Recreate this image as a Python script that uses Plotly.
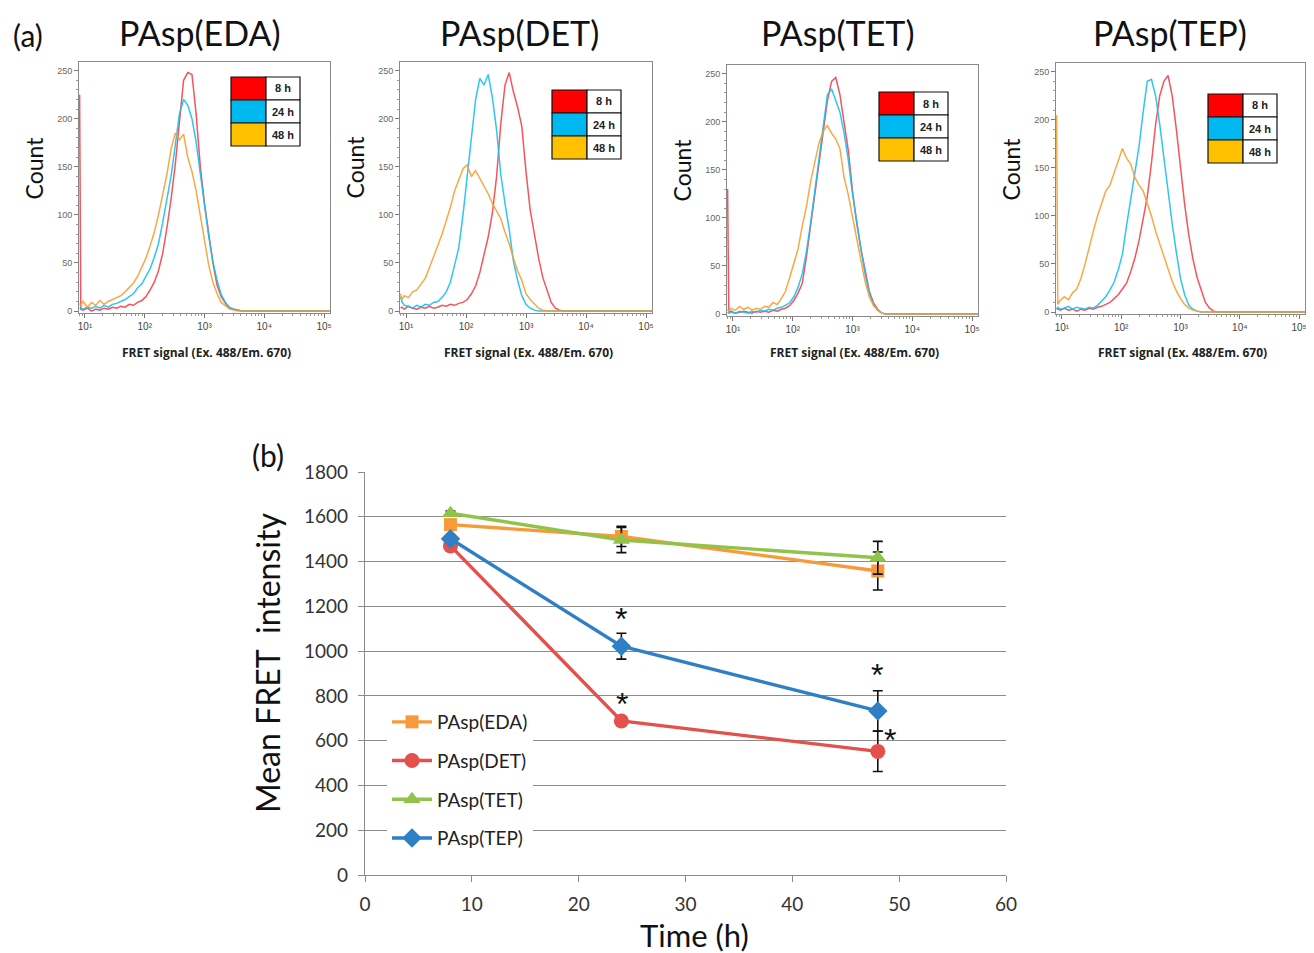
import plotly.graph_objects as go

# the page body adds an 8px margin, so the figure is sized to fit the 1314x953 window
PAGE_W, PAGE_H = 1314, 953
OFF = 8
W, H = PAGE_W - OFF, PAGE_H - OFF
FONT = "Lato"
TICKFONT = "Liberation Sans"

# ---------------- (a) flow cytometry histograms ----------------
# x: log10 of FRET signal (Ex. 488/Em. 670); y: event counts
log_signal = [0.91, 0.93,
              0.97, 1.04, 1.11, 1.18, 1.25, 1.32, 1.39,
              1.46, 1.53, 1.60, 1.67, 1.74, 1.81, 1.88,
              1.95, 2.02, 2.09, 2.16, 2.23, 2.30, 2.37,
              2.44, 2.51, 2.58, 2.65, 2.72, 2.79, 2.86,
              2.93, 3.00, 3.07, 3.14, 3.21, 3.28, 3.35,
              3.42, 3.49, 3.56, 3.63, 3.70,
              5.10]

hist_titles = ["PAsp(EDA)", "PAsp(DET)", "PAsp(TET)", "PAsp(TEP)"]
hist_times = ["8 h", "24 h", "48 h"]

eda_8h = [225, 2,
          1, 3, 0, 2, 1, 3, 2,
          4, 3, 5, 4, 7, 6, 9,
          11, 15, 22, 30, 42, 60, 86,
          116, 152, 200, 240, 248, 246, 205,
          150, 112, 80, 50, 27, 15, 8,
          3, 2, 1, 0, 0,
          0]
eda_24h = [3, 3,
           2, 4, 3, 5, 3, 6, 4,
           7, 8, 10, 12, 15, 18, 24,
           28, 36, 44, 56, 70, 92, 118,
           140, 172, 205, 220, 214, 200, 176,
           143, 110, 78, 52, 32, 17, 9,
           4, 2, 1, 0, 0,
           0]
eda_48h = [8, 6,
           10, 4, 9, 6, 11, 7, 10,
           12, 14, 16, 20, 24, 29, 36,
           45, 55, 68, 82, 100, 122, 142,
           168, 185, 178, 184, 160, 145, 125,
           100, 72, 48, 30, 18, 9, 5,
           2, 1, 0, 0, 0,
           0]

det_8h = [3, 4,
          2, 5, 3, 2, 4, 3, 5,
          3, 4, 6, 5, 7, 6, 8,
          9, 12, 18, 26, 40, 58, 77,
          102, 140, 195, 235, 248, 228, 212,
          192, 145, 105, 80, 55, 35, 22,
          9, 3, 1, 0, 0,
          0]
det_24h = [15, 10,
           6, 5, 3, 6, 4, 7, 6,
           9, 10, 14, 20, 30, 48, 66,
           100, 140, 182, 220, 242, 235, 246,
           222, 188, 142, 112, 85, 52, 32,
           16, 7, 3, 1, 0, 0, 0,
           0, 0, 0, 0, 0,
           0]
det_48h = [18, 12,
           16, 14, 20, 22, 28, 34, 45,
           56, 68, 80, 94, 108, 125, 136,
           148, 152, 140, 146, 138, 130, 122,
           112, 104, 96, 82, 70, 55, 42,
           32, 18, 12, 7, 3, 1, 0,
           0, 0, 0, 0, 0,
           0]

tet_8h = [130, 2,
          3, 1, 2, 3, 2, 1, 3,
          2, 3, 2, 4, 3, 5, 6,
          9, 14, 22, 32, 60, 92, 124,
          155, 190, 222, 242, 246, 228, 200,
          170, 128, 95, 68, 44, 24, 12,
          5, 1, 0, 0, 0,
          0]
tet_24h = [2, 1,
           2, 1, 3, 2, 1, 3, 2,
           4, 3, 5, 4, 6, 7, 9,
           12, 18, 28, 42, 65, 95, 128,
           162, 200, 228, 234, 222, 210, 188,
           160, 125, 95, 68, 42, 22, 10,
           4, 1, 0, 0, 0,
           0]
tet_48h = [5, 3,
           6, 4, 8, 5, 7, 4, 6,
           5, 8, 7, 12, 10, 16, 24,
           38, 52, 68, 92, 112, 138, 158,
           178, 190, 196, 188, 182, 172, 142,
           124, 100, 78, 56, 34, 18, 9,
           4, 1, 0, 0, 0,
           0]

tep_8h = [4, 3,
          2, 4, 2, 3, 1, 3, 2,
          4, 3, 5, 6, 8, 10, 14,
          18, 24, 30, 42, 56, 74, 96,
          120, 155, 195, 225, 240, 246, 225,
          190, 150, 112, 80, 55, 36, 22,
          10, 4, 1, 0, 0,
          0]
tep_24h = [3, 5,
           3, 4, 6, 3, 5, 4, 3,
           5, 4, 7, 11, 16, 23, 31,
           44, 60, 90, 118, 142, 172, 208,
           240, 242, 225, 195, 160, 128, 92,
           62, 35, 18, 7, 3, 1, 0,
           0, 0, 0, 0, 0,
           0]
tep_48h = [205, 8,
           12, 16, 13, 20, 24, 35, 50,
           68, 84, 100, 114, 126, 132, 145,
           158, 170, 160, 154, 140, 132, 126,
           114, 100, 84, 70, 58, 45, 32,
           22, 14, 8, 4, 2, 1, 0,
           0, 0, 0, 0, 0,
           0]

hist_counts = [[eda_8h, eda_24h, eda_48h],
               [det_8h, det_24h, det_48h],
               [tet_8h, tet_24h, tet_48h],
               [tep_8h, tep_24h, tep_48h]]

# ---------------- (b) mean FRET intensity vs time ----------------
time_h = [8, 24, 48]
series_names = ["PAsp(EDA)", "PAsp(DET)", "PAsp(TET)", "PAsp(TEP)"]
eda_mean = [1565, 1512, 1358]
det_mean = [1470, 688, 552]
tet_mean = [1616, 1496, 1417]
tep_mean = [1502, 1022, 733]
eda_err = [12, 45, 85]
det_err = [12, 20, 90]
tet_err = [10, 56, 73]
tep_err = [12, 58, 90]
star_marks = [(24.0, 1145), (24.1, 765), (47.9, 895), (49.1, 605)]

# ---------------- styling ----------------
line_colors = ["#f4434c", "#19c1ee", "#f7a032"]
swatch_colors = ["#ff0000", "#00b8f0", "#ffc000"]
b_colors = ["#f99a3a", "#e4504c", "#8fc34a", "#2f7fc6"]
b_symbols = ["square", "circle", "triangle-up", "diamond"]
b_sizes = [13, 15, 15, 15]

panels_px = [(79, 330, 62, 313), (400, 652, 62, 313), (727, 978, 65, 316), (1056, 1305, 63, 314)]
legend_box_px = [(231, 77), (552, 90), (879, 92), (1208, 94)]


def px(x):
    return (x - OFF) / W


def py(y):
    return 1 - (y - OFF) / H


fig = go.Figure()
ann = []
shapes = []

minor_vals = [k * 10 ** d for d in range(0, 6) for k in range(2, 10)]

for i in range(4):
    n = i + 1
    sig_vals = [10 ** e for e in log_signal]
    for j in range(3):
        counts = hist_counts[i][j]
        assert len(counts) == len(log_signal), (i, j, len(counts))
        fig.add_trace(go.Scatter(
            x=sig_vals, y=counts, mode="lines",
            line=dict(color=line_colors[j], width=1.5),
            opacity=0.9, showlegend=False, hoverinfo="skip",
            xaxis=f"x{n}", yaxis=f"y{n}"))
    x0, x1, y0, y1 = panels_px[i]
    fig.update_layout(**{
        f"xaxis{n}": dict(
            type="log", range=[0.9, 5.1], domain=[px(x0), px(x1)], anchor=f"y{n}",
            automargin=False,
            showline=True, linecolor="#8a8a8a", linewidth=1, mirror=True,
            ticks="outside", ticklen=4, tickcolor="#777",
            tickvals=[10, 100, 1e3, 1e4, 1e5],
            ticktext=["10¹", "10²", "10³", "10⁴", "10⁵"],
            tickfont=dict(family=TICKFONT, size=10, color="#444"),
            minor=dict(tickvals=minor_vals, ticks="outside", ticklen=2, tickcolor="#999"),
            showgrid=False, zeroline=False),
        f"yaxis{n}": dict(
            range=[-2, 259], domain=[py(y1), py(y0)], anchor=f"x{n}",
            automargin=False,
            showline=True, linecolor="#8a8a8a", linewidth=1, mirror=True,
            ticks="outside", ticklen=4, tickcolor="#777",
            tickvals=[0, 50, 100, 150, 200, 250],
            tickfont=dict(family=TICKFONT, size=9, color="#666"),
            minor=dict(dtick=10, ticks="outside", ticklen=2, tickcolor="#999"),
            showgrid=False, zeroline=False),
    })
    cx = (x0 + x1) / 2
    title_x = [200, 519, 838, 1170][i]
    ann.append(dict(text=hist_titles[i], x=px(title_x), y=py(32), xref="paper", yref="paper",
                    showarrow=False, xanchor="center", yanchor="middle",
                    font=dict(family=FONT, size=34, color="#111")))
    ann.append(dict(text="Count", x=px(x0 - 46), y=py((y0 + y1) / 2 - 20), xref="paper", yref="paper",
                    showarrow=False, textangle=-90, xanchor="center", yanchor="middle",
                    font=dict(family=FONT, size=23, color="#111")))
    ann.append(dict(text="<b>FRET signal (Ex. 488/Em. 670)</b>", x=px(cx + 2), y=py(352),
                    xref="paper", yref="paper", showarrow=False, xanchor="center", yanchor="middle",
                    font=dict(family="Open Sans", size=12, color="#222")))
    lx, ly = legend_box_px[i]
    rh = 23
    for j in range(3):
        top = ly + j * rh
        shapes.append(dict(type="rect", xref="paper", yref="paper",
                           x0=px(lx), x1=px(lx + 35), y0=py(top + rh), y1=py(top),
                           fillcolor=swatch_colors[j], line=dict(color="#111", width=1.2)))
        shapes.append(dict(type="rect", xref="paper", yref="paper",
                           x0=px(lx + 35), x1=px(lx + 69), y0=py(top + rh), y1=py(top),
                           fillcolor="white", line=dict(color="#111", width=1.2)))
        ann.append(dict(text=f"<b>{hist_times[j]}</b>", x=px(lx + 52), y=py(top + rh / 2),
                        xref="paper", yref="paper", showarrow=False,
                        xanchor="center", yanchor="middle",
                        font=dict(family="Liberation Sans", size=11, color="#222")))

ann.append(dict(text="(a)", x=px(28), y=py(35), xref="paper", yref="paper", showarrow=False,
                xanchor="center", yanchor="middle", font=dict(family=FONT, size=30, color="#111")))

# ---------------- (b) traces ----------------
b_means = [eda_mean, det_mean, tet_mean, tep_mean]
b_errs = [eda_err, det_err, tet_err, tep_err]
for k in range(4):
    fig.add_trace(go.Scatter(
        x=time_h, y=b_means[k], mode="lines+markers", name=series_names[k],
        legendgroup=series_names[k],
        line=dict(color=b_colors[k], width=3.4),
        marker=dict(symbol=b_symbols[k], size=b_sizes[k], color=b_colors[k],
                    line=dict(width=0)),
        error_y=dict(type="data", array=b_errs[k], color="#111", thickness=1.6, width=5),
        xaxis="x5", yaxis="y5"))

fig.update_layout(
    xaxis5=dict(domain=[px(365), px(1006)], range=[0, 60], dtick=10, anchor="y5",
                automargin=False,
                showline=True, linecolor="#8c8c8c", linewidth=1.3,
                ticks="outside", ticklen=6, tickcolor="#8c8c8c", tickwidth=1.3,
                tickfont=dict(family=FONT, size=19, color="#333"), ticklabelstandoff=6,
                showgrid=False, zeroline=False),
    yaxis5=dict(domain=[py(875), py(472)], range=[0, 1800], dtick=200, anchor="x5",
                automargin=False,
                showline=True, linecolor="#8c8c8c", linewidth=1.3,
                ticks="outside", ticklen=6, tickcolor="#8c8c8c", tickwidth=1.3,
                showgrid=True, gridcolor="#8c8c8c", gridwidth=1.3,
                tickfont=dict(family=FONT, size=19, color="#333"), ticklabelstandoff=6,
                zeroline=False),
)

ann.append(dict(text="(b)", x=px(268), y=py(455), xref="paper", yref="paper", showarrow=False,
                xanchor="center", yanchor="middle", font=dict(family=FONT, size=30, color="#111")))
ann.append(dict(text="Mean FRET\u00a0\u00a0intensity", x=px(267), y=py(663), xref="paper", yref="paper",
                showarrow=False, textangle=-90, xanchor="center", yanchor="middle",
                font=dict(family=FONT, size=32, color="#111")))
ann.append(dict(text="Time (h)", x=px(694), y=py(935), xref="paper", yref="paper", showarrow=False,
                xanchor="center", yanchor="middle", font=dict(family=FONT, size=31, color="#111")))
for (sx, sy) in star_marks:
    ann.append(dict(text="*", x=sx, y=sy, xref="x5", yref="y5", showarrow=False,
                    xanchor="center", yanchor="middle",
                    font=dict(family="Liberation Sans", size=32, color="#111")))

fig.update_layout(
    width=W, height=H, margin=dict(l=0, r=0, t=0, b=0, autoexpand=False),
    paper_bgcolor="white", plot_bgcolor="white",
    annotations=ann, shapes=shapes,
    showlegend=True,
    legend=dict(x=px(387), y=py(703), xanchor="left", yanchor="top",
                bgcolor="white", borderwidth=0, tracegroupgap=11,
                font=dict(family=FONT, size=19, color="#222"), itemwidth=40),
)

fig.write_html("out.html")
